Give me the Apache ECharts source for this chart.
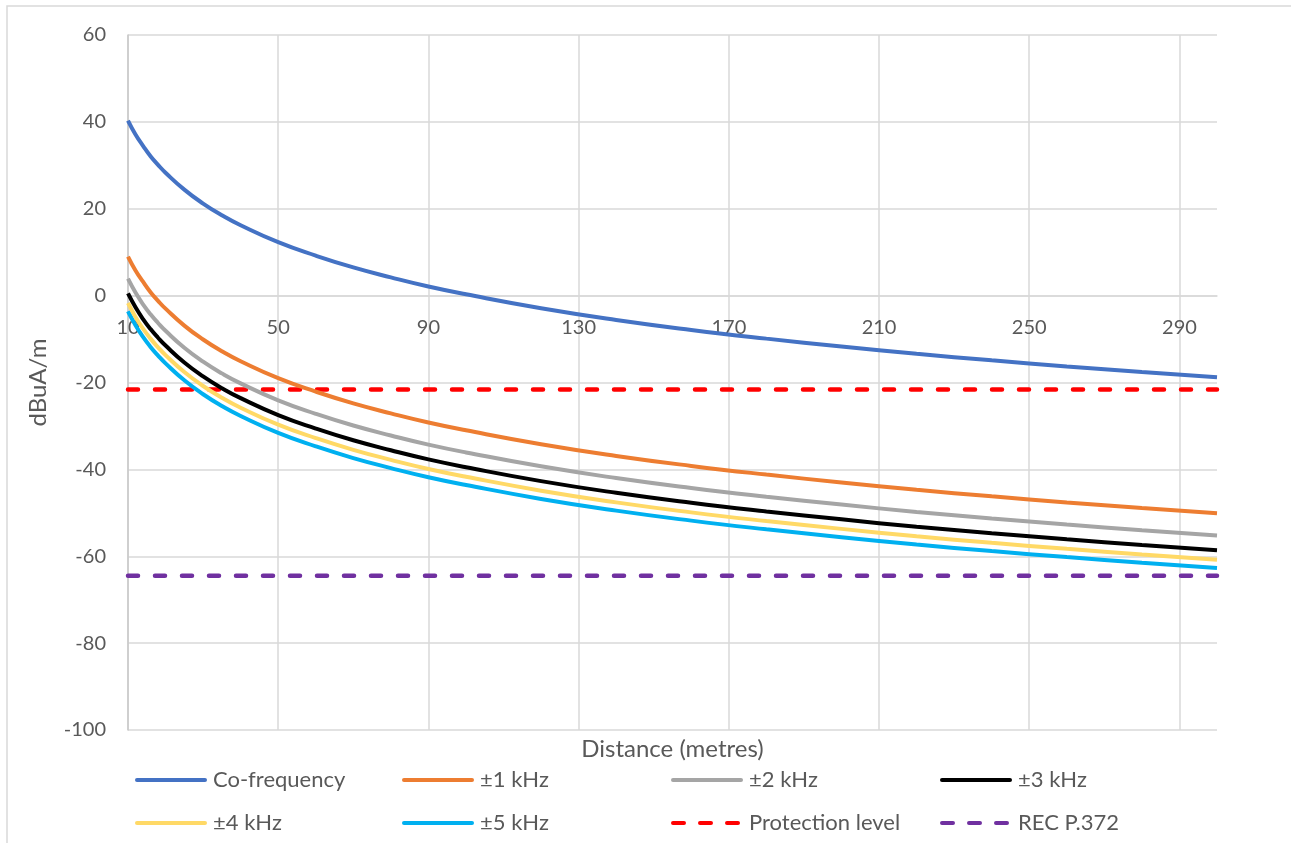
<!DOCTYPE html>
<html><head><meta charset="utf-8">
<script src="https://cdn.jsdelivr.net/npm/echarts@6/dist/echarts.min.js"></script>
<style>html,body{margin:0;padding:0;background:#fff}#c{width:1291px;height:843px}</style>
</head><body><div id="c"></div>
<script>
// ---- data ----
const distances   = [10, 12, 14, 16, 18, 20, 25, 30, 35, 40, 50, 60, 70, 80, 90, 100, 120, 140, 160, 180, 200, 220, 240, 260, 280, 300];
const coFrequency = [40.3, 37.1, 34.5, 32.1, 30.1, 28.3, 24.4, 21.2, 18.5, 16.2, 12.3, 9.2, 6.5, 4.2, 2.1, 0.3, -2.9, -5.6, -7.9, -9.9, -11.7, -13.4, -14.9, -16.3, -17.6, -18.8];
const khz1        = [9.0, 5.8, 3.2, 0.8, -1.2, -3.0, -6.9, -10.1, -12.8, -15.1, -19.0, -22.1, -24.8, -27.1, -29.2, -31.0, -34.2, -36.9, -39.2, -41.2, -43.0, -44.7, -46.2, -47.6, -48.9, -50.1];
const khz2        = [3.9, 0.7, -2.0, -4.3, -6.3, -8.1, -12.0, -15.2, -17.9, -20.2, -24.1, -27.2, -29.9, -32.2, -34.3, -36.1, -39.3, -42.0, -44.3, -46.3, -48.1, -49.8, -51.3, -52.7, -54.0, -55.2];
const khz3        = [0.5, -2.7, -5.4, -7.7, -9.7, -11.5, -15.4, -18.6, -21.3, -23.6, -27.5, -30.6, -33.3, -35.6, -37.7, -39.5, -42.7, -45.4, -47.7, -49.7, -51.5, -53.2, -54.7, -56.1, -57.4, -58.6];
const khz4        = [-1.7, -4.9, -7.6, -9.9, -11.9, -13.7, -17.6, -20.8, -23.5, -25.8, -29.7, -32.8, -35.5, -37.8, -39.9, -41.7, -44.9, -47.6, -49.9, -51.9, -53.7, -55.4, -56.9, -58.3, -59.6, -60.8];
const khz5        = [-3.6, -6.8, -9.5, -11.8, -13.8, -15.6, -19.5, -22.7, -25.4, -27.7, -31.6, -34.7, -37.4, -39.7, -41.8, -43.6, -46.8, -49.5, -51.8, -53.8, -55.6, -57.3, -58.8, -60.2, -61.5, -62.7];
const protectionLevel = -21.6;
const recP372 = -64.5;
const seriesNames = ['Co-frequency', '±1 kHz', '±2 kHz', '±3 kHz', '±4 kHz', '±5 kHz', 'Protection level', 'REC P.372'];
const xStart = 10, xEnd = 300, xStep = 40;   // x tick labels: 10, 50, ..., 290
const yMin = -100, yMax = 60, yStep = 20;    // y tick labels: -100 ... 60
const xAxisTitle = 'Distance (metres)';
const yAxisTitle = 'dBuA/m';

// ---- chart ----
const FONT = 'Lato';
const TXT = '#595959';
const colors = ['#4472C4', '#ED7D31', '#A5A5A5', '#000000', '#FFD966', '#00B0F0', '#FF0000', '#7030A0'];
const curveData = [coFrequency, khz1, khz2, khz3, khz4, khz5];
const toPts = arr => distances.map((d, i) => [d - xStart, arr[i]]);
const flat = v => [[0, v], [xEnd - xStart, v]];

const W = 1291, H = 843;
const G = { left: 128, right: 74, top: 35, bottom: 113 };
const plotH = H - G.top - G.bottom;
const zeroOffset = -plotH * (0 - yMin) / (yMax - yMin); // move x-axis line up to y = 0

const DASH = [10, 17];
const series = [];
curveData.forEach((arr, i) => {
  series.push({
    name: seriesNames[i], type: 'line', data: toPts(arr), smooth: true,
    showSymbol: false, symbol: 'none', color: colors[i],
    lineStyle: { width: 4, color: colors[i] }, z: 10 - i
  });
});
[protectionLevel, recP372].forEach((v, j) => {
  const i = 6 + j;
  series.push({
    name: seriesNames[i], type: 'line', data: flat(v),
    showSymbol: false, symbol: 'none', color: colors[i],
    lineStyle: { width: 4.5, color: colors[i], type: DASH, cap: 'round' }, z: 3
  });
});

const cols = [135, 402, 671, 940];
const rows = [780, 823];
const legends = seriesNames.map((n, i) => ({
  data: [n], left: cols[i % 4], top: rows[Math.floor(i / 4)] - 11,
  padding: 0, itemWidth: 68, itemHeight: 22, itemGap: 0,
  itemStyle: { opacity: 0 },
  lineStyle: { width: 4, color: colors[i], type: i >= 6 ? [11, 16] : 'solid', cap: 'round' },
  textStyle: { fontFamily: FONT, fontSize: 22, color: TXT, padding: [0, 0, 0, 3] },
  selectedMode: false
}));

const chart = echarts.init(document.getElementById('c'), null, { renderer: 'canvas' });
chart.setOption({
  animation: false,
  backgroundColor: '#fff',
  textStyle: { fontFamily: FONT },
  graphic: [
    { type: 'rect', shape: { x: 7, y: 6, width: 1320, height: 900 }, style: { fill: 'none', stroke: '#d9d9d9', lineWidth: 1.5 }, silent: true, z: -10 },
    { type: 'text', x: G.left + (W - G.left - G.right) / 2, y: 749, style: { text: xAxisTitle, fontFamily: FONT, fontSize: 24, fill: TXT, align: 'center', verticalAlign: 'middle' }, silent: true }
  ],
  grid: { left: G.left, right: G.right, top: G.top, bottom: G.bottom, containLabel: false, outerBoundsMode: 'none' },
  legend: legends,
  xAxis: {
    type: 'value', min: 0, max: xEnd - xStart, interval: xStep,
    position: 'bottom', offset: zeroOffset,
    axisLine: { show: true, onZero: false, lineStyle: { color: '#d9d9d9', width: 1.5 } },
    axisTick: { show: false },
    axisLabel: { fontFamily: FONT, fontSize: 20, color: TXT, margin: 22, showMaxLabel: false, formatter: v => String(v + xStart) },
    splitLine: { show: true, showMaxLine: false, lineStyle: { color: '#d9d9d9', width: 1.5 } }
  },
  yAxis: {
    type: 'value', min: yMin, max: yMax, interval: yStep,
    axisLine: { show: true, lineStyle: { color: '#c8c8c8', width: 1.5 } },
    axisTick: { show: false },
    axisLabel: { fontFamily: FONT, fontSize: 20, color: TXT, margin: 22 },
    splitLine: { show: true, lineStyle: { color: '#d9d9d9', width: 1.5 } },
    name: yAxisTitle, nameLocation: 'middle', nameGap: 78, nameRotate: 90,
    nameTextStyle: { fontFamily: FONT, fontSize: 24, color: TXT }
  },
  series: series
});
</script>
</body></html>
